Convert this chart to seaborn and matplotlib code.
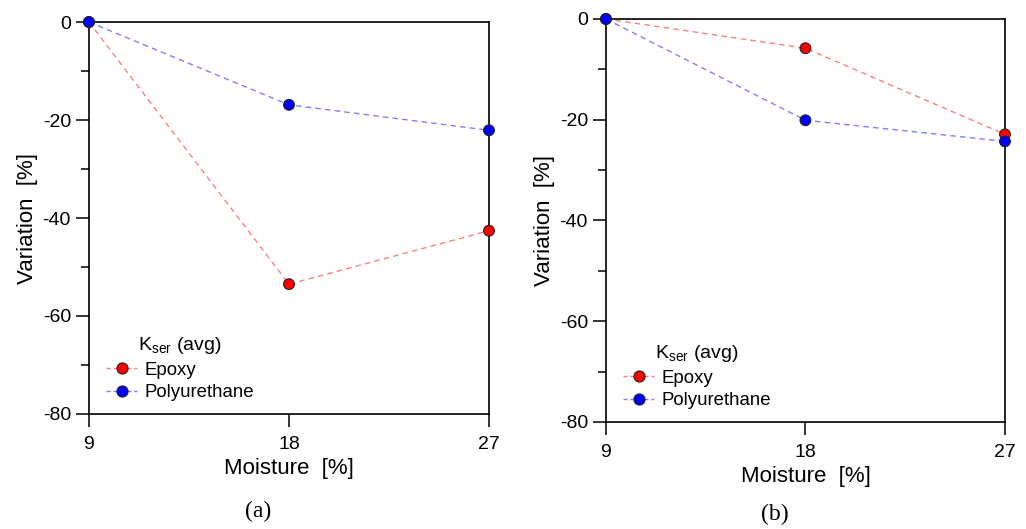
import numpy as np
import pandas as pd
import matplotlib
matplotlib.use("Agg")
import matplotlib.pyplot as plt
import seaborn as sns
from matplotlib.lines import Line2D
from matplotlib.ticker import MultipleLocator

# values (variation of K_ser vs moisture content)
moisture = [9, 18, 27]
epoxy_a = [0, -53.5, -42.6]
polyurethane_a = [0, -16.9, -22.1]
epoxy_b = [0, -5.8, -22.9]
polyurethane_b = [0, -20.1, -24.3]
materials = ["Epoxy", "Polyurethane"]
x_ticks = [9, 18, 27]
y_ticks = [0, -20, -40, -60, -80]
panel_labels = ["(a)", "(b)"]

line_colors = {"Epoxy": "#ff8080", "Polyurethane": "#8080ff"}
marker_colors = {"Epoxy": "#ff0000", "Polyurethane": "#0000ff"}

sns.set_theme(style="ticks")
plt.rcParams["font.family"] = ["Liberation Sans", "DejaVu Sans"]
plt.rcParams["axes.unicode_minus"] = False
plt.rcParams["axes.edgecolor"] = "black"
plt.rcParams["xtick.color"] = "black"
plt.rcParams["ytick.color"] = "black"
plt.rcParams["text.color"] = "black"
plt.rcParams["axes.labelcolor"] = "black"


def make_frame(epoxy, poly):
    return pd.DataFrame({
        "Moisture": moisture * 2,
        "Variation": epoxy + poly,
        "Material": ["Epoxy"] * len(moisture) + ["Polyurethane"] * len(moisture),
    })


def draw_panel(ax, df):
    sns.lineplot(data=df, x="Moisture", y="Variation", hue="Material",
                 palette=line_colors, hue_order=materials, linestyle=(0, (4, 3)),
                 linewidth=1.0, legend=False, ax=ax)
    sns.scatterplot(data=df, x="Moisture", y="Variation", hue="Material",
                    palette=marker_colors, hue_order=materials, s=60,
                    edgecolor="#222222", linewidth=0.8, legend=False,
                    zorder=4, clip_on=False, ax=ax)
    ax.set_xlim(9, 27)
    ax.set_ylim(-80, 0)
    ax.set_xticks(x_ticks)
    ax.set_yticks(y_ticks)
    ax.yaxis.set_minor_locator(MultipleLocator(10))
    ax.tick_params(axis="both", which="major", direction="out", length=9.5,
                   width=1.1, labelsize=14, top=False, right=False)
    ax.tick_params(axis="x", which="major", pad=6)
    ax.tick_params(axis="y", which="minor", direction="out", length=5.5,
                   width=1.1, right=False)
    ax.set_xlabel("Moisture  [%]", fontsize=16, labelpad=4)
    ax.set_ylabel("Variation  [%]", fontsize=16, labelpad=3)
    for spine in ax.spines.values():
        spine.set_visible(True)
        spine.set_linewidth(1.2)
        spine.set_color("black")

    handles = [
        Line2D([0], [0], color=line_colors[m], linestyle=(0, (3, 2)), linewidth=1.0,
               marker="o", markersize=8, markerfacecolor=marker_colors[m],
               markeredgecolor="#222222", markeredgewidth=0.8)
        for m in materials
    ]
    ax.legend(handles, materials, title=r"K$_{\mathregular{ser}}$ (avg)",
              loc="lower left", bbox_to_anchor=(0.0, -0.01), frameon=False,
              fontsize=13.4, title_fontsize=14, handlelength=1.7,
              handletextpad=0.4, labelspacing=0.3)


fig = plt.figure(figsize=(10.26, 5.29), dpi=100)
ax_a = fig.add_axes([0.0867, 0.2174, 0.3899, 0.7410])
ax_b = fig.add_axes([0.5906, 0.2023, 0.3889, 0.7618])

draw_panel(ax_a, make_frame(epoxy_a, polyurethane_a))
draw_panel(ax_b, make_frame(epoxy_b, polyurethane_b))

fig.text(0.252, 0.034, panel_labels[0], ha="center", va="center",
         fontsize=17, family=["Liberation Serif", "DejaVu Serif"])
fig.text(0.755, 0.028, panel_labels[1], ha="center", va="center",
         fontsize=17, family=["Liberation Serif", "DejaVu Serif"])

fig.savefig("out.png", dpi=100)
